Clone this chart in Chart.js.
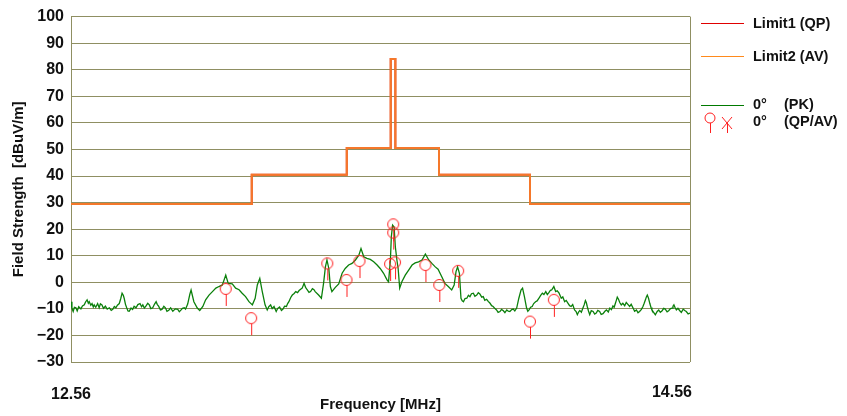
<!DOCTYPE html>
<html>
<head>
<meta charset="utf-8">
<script src="https://cdn.jsdelivr.net/npm/chart.js@4"></script>
<style>
    html, body { margin: 0; padding: 0; background: #fff; }
    #wrap { position: relative; width: 847px; height: 416px; }
</style>
</head>
<body>
<div id="wrap"><canvas id="chart-emi" width="847" height="416"></canvas></div>
<script>
const xMin = 12.56;
const xMax = 14.56;
const yMin = -30;
const yMax = 100;
const xTickLabels = ['12.56', '14.56'];

// limit lines (step breakpoints, MHz)
const limitFreqs = [12.56, 13.144, 13.451, 13.593, 13.608, 13.749, 14.043, 14.56];
const limit1Levels = [29.5, 40.5, 50.5, 84, 50.5, 40.5, 29.5, 29.5];
const limit2Levels = [29.5, 40.5, 50.5, 84, 50.5, 40.5, 29.5, 29.5];

// peak scan 0 deg, read in pieces from left to right
const pkFreqsA = [
    12.560, 12.563, 12.567, 12.571, 12.576, 12.580, 12.585, 12.592, 12.597, 12.603,
    12.607, 12.612, 12.616, 12.619, 12.624, 12.628, 12.632, 12.635, 12.640, 12.646,
    12.651, 12.655, 12.660, 12.665, 12.671, 12.677, 12.684, 12.690, 12.695, 12.700,
    12.705, 12.710, 12.716, 12.721, 12.725, 12.729, 12.732, 12.736, 12.740, 12.744,
    12.748, 12.754, 12.759, 12.764, 12.770, 12.776, 12.783, 12.788, 12.792, 12.797,
    12.802, 12.808, 12.813, 12.818, 12.824, 12.830, 12.835, 12.839, 12.843, 12.849,
    12.854, 12.860, 12.865, 12.870, 12.876, 12.882, 12.889, 12.897, 12.905, 12.910,
    12.915, 12.920, 12.926, 12.930, 12.934, 12.937, 12.940, 12.944, 12.948
];
const pkLevelsA = [
    -7.3, -9.8, -11.0, -9.4, -9.6, -10.8, -9.2, -10.0, -8.9, -8.5,
    -7.4, -6.6, -7.9, -7.3, -8.6, -8.0, -9.3, -8.5, -9.4, -8.0,
    -9.6, -8.1, -8.5, -9.8, -9.0, -10.1, -9.6, -10.6, -10.2, -9.1,
    -9.6, -8.6, -8.0, -6.0, -4.1, -4.9, -6.1, -8.3, -9.6, -10.8,
    -10.9, -9.7, -10.2, -9.0, -9.6, -8.4, -8.0, -9.2, -8.5, -9.7,
    -9.0, -7.9, -8.5, -9.9, -9.6, -8.2, -7.3, -8.4, -9.0, -10.4,
    -10.2, -9.0, -9.6, -10.9, -10.5, -9.6, -10.9, -10.0, -10.2, -11.1,
    -10.5, -9.8, -9.6, -10.1, -9.0, -8.2, -6.6, -4.5, -2.9
];

const pkFreqsB = [
    12.957, 12.968, 12.976, 12.986, 12.995, 13.006, 13.017, 13.028, 13.038, 13.049,
    13.060, 13.068, 13.081, 13.092, 13.103, 13.113, 13.124, 13.135, 13.146, 13.155,
    13.162, 13.170, 13.178, 13.187, 13.194, 13.199, 13.205, 13.210, 13.216, 13.223,
    13.228, 13.234, 13.240, 13.245, 13.250, 13.256, 13.260, 13.264, 13.270, 13.275,
    13.281, 13.286, 13.292, 13.297, 13.302, 13.307, 13.313, 13.318, 13.323, 13.329,
    13.334, 13.340, 13.345
];
const pkLevelsB = [
    -7.3, -9.7, -10.6, -9.1, -6.6, -4.8, -3.5, -2.2, -1.6, -1.0,
    2.7, -0.4, -0.6, -2.2, -2.8, -4.1, -5.4, -7.3, -8.5, -6.0,
    -1.0, 1.5, -3.5, -8.5, -10.4, -9.2, -8.5, -9.9, -9.1, -11.0,
    -9.8, -9.3, -10.6, -10.1, -9.0, -9.1, -8.0, -7.3, -5.7, -4.8,
    -4.2, -3.5, -3.9, -3.1, -2.6, -2.2, -0.4, -1.9, -2.8, -3.8,
    -3.5, -2.4, -2.8
];

const pkFreqsC = [
    13.349, 13.360, 13.369, 13.376, 13.382, 13.387, 13.393, 13.398, 13.403, 13.414,
    13.425, 13.436, 13.446, 13.457, 13.468, 13.479, 13.490, 13.497, 13.506, 13.516,
    13.527, 13.538, 13.549, 13.559, 13.570, 13.581, 13.586, 13.592, 13.595, 13.599,
    13.604, 13.608, 13.613, 13.617, 13.622, 13.629, 13.640, 13.651, 13.662, 13.672,
    13.683, 13.694, 13.705, 13.716, 13.726, 13.737, 13.746
];
const pkLevelsC = [
    -3.5, -4.8, -6.0, -0.4, 5.8, 8.4, 5.2, -1.6, -3.5, -1.9,
    -0.6, 3.4, 5.2, 6.5, 7.1, 8.4, 10.2, 12.7, 9.6, 9.0,
    8.6, 7.7, 6.5, 5.2, 3.4, 0.9, 0.2, 8.4, 17.1, 21.5,
    20.8, 13.3, 8.4, 5.2, -2.2, 0.2, 2.7, 4.6, 6.5, 7.3,
    7.7, 8.4, 10.6, 8.4, 7.1, 5.8, 4.9
];

const pkFreqsD = [
    13.758, 13.768, 13.779, 13.790, 13.798, 13.804, 13.809, 13.815, 13.820, 13.824,
    13.828, 13.833, 13.839, 13.844, 13.849, 13.854, 13.860, 13.865, 13.871, 13.876,
    13.881, 13.887, 13.892, 13.897, 13.903, 13.908, 13.914, 13.919, 13.924, 13.930,
    13.935, 13.940, 13.946, 13.951, 13.957, 13.962, 13.968, 13.973, 13.978, 13.984,
    13.989, 13.994, 14.000, 14.007, 14.014, 14.019, 14.025, 14.032, 14.036, 14.040,
    14.045, 14.050, 14.055, 14.061, 14.066, 14.072, 14.077, 14.083, 14.088, 14.094,
    14.099, 14.104, 14.109, 14.113, 14.120, 14.126, 14.131, 14.137
];
const pkLevelsD = [
    2.1, -0.4, -1.6, -2.9, -1.0, 4.0, 5.8, 3.4, -6.0, -7.0,
    -7.3, -6.1, -6.0, -4.9, -5.4, -4.3, -4.1, -5.3, -4.8, -3.9,
    -4.4, -5.6, -5.4, -6.8, -6.4, -7.2, -7.9, -8.8, -9.1, -9.9,
    -10.4, -11.3, -11.0, -10.2, -10.7, -11.4, -10.4, -10.9, -11.0, -10.3,
    -10.1, -10.8, -9.7, -6.0, -2.9, -2.2, -5.4, -9.7, -10.9, -10.4,
    -9.4, -9.1, -8.0, -7.3, -7.0, -6.0, -5.0, -4.1, -4.6, -3.5,
    -4.6, -3.9, -3.0, -2.9, -1.6, -3.5, -3.2, -4.1
];

const pkFreqsE = [
    14.144, 14.149, 14.155, 14.160, 14.166, 14.171, 14.176, 14.181, 14.187, 14.192,
    14.196, 14.200, 14.204, 14.209, 14.214, 14.218, 14.222, 14.225, 14.228, 14.232,
    14.236, 14.241, 14.247, 14.252, 14.257, 14.262, 14.268, 14.273, 14.279, 14.285,
    14.290, 14.296, 14.301, 14.306, 14.311, 14.315, 14.319, 14.322, 14.325, 14.329,
    14.333, 14.338, 14.343, 14.349, 14.354, 14.360, 14.365, 14.370, 14.376, 14.381,
    14.387, 14.392, 14.397, 14.403, 14.408, 14.412, 14.416, 14.419, 14.422, 14.426,
    14.430, 14.434, 14.437, 14.443, 14.448, 14.454, 14.459, 14.464, 14.470, 14.475,
    14.480, 14.486, 14.491, 14.497, 14.502, 14.505, 14.508, 14.512, 14.516, 14.521,
    14.527, 14.532, 14.538, 14.543, 14.548, 14.554, 14.560
];
const pkLevelsE = [
    -6.0, -5.5, -7.3, -6.8, -7.9, -8.8, -9.1, -8.4, -10.4, -11.0,
    -12.2, -11.2, -10.6, -11.3, -9.7, -8.5, -6.9, -7.6, -9.1, -10.8,
    -12.2, -10.7, -11.0, -12.0, -11.6, -10.6, -11.0, -12.1, -11.8, -10.9,
    -10.4, -11.2, -9.7, -10.3, -8.9, -9.4, -7.9, -6.8, -5.6, -6.4,
    -7.6, -8.5, -7.9, -8.8, -7.6, -8.4, -9.1, -8.3, -9.7, -10.9,
    -10.4, -11.5, -11.0, -10.2, -9.1, -7.9, -6.6, -5.5, -4.8, -6.0,
    -7.9, -9.5, -10.4, -11.4, -12.2, -11.0, -10.4, -11.3, -10.7, -9.8,
    -10.1, -11.1, -10.7, -9.9, -9.7, -9.0, -8.5, -9.6, -10.4, -9.8,
    -10.7, -11.3, -10.1, -10.6, -11.0, -11.9, -11.6
];

const pkFreqs = [].concat(pkFreqsA, pkFreqsB, pkFreqsC, pkFreqsD, pkFreqsE);
const pkLevels = [].concat(pkLevelsA, pkLevelsB, pkLevelsC, pkLevelsD, pkLevelsE);

// QP readings 0 deg
const qpFreqs = [13.060, 13.142, 13.388, 13.450, 13.492, 13.591, 13.601, 13.601, 13.607, 13.705, 13.750, 13.811, 14.043, 14.120];
const qpLevels = [-2.5, -13.5, 7.1, 0.9, 8.0, 6.9, 21.8, 18.7, 7.5, 6.5, -1.0, 4.3, -14.8, -6.6];

const gridColor = '#8f8f62';
const fontFamily = '"Liberation Sans", Arial, sans-serif';
const markerColor = '#ff1f1f';

function pairs(xs, ys) {
    return xs.map((x, i) => ({ x: x, y: ys[i] }));
}

function makePinSymbol(color) {
    const c = document.createElement('canvas');
    c.width = 16;
    c.height = 36;
    const ctx = c.getContext('2d');
    ctx.strokeStyle = color;
    ctx.lineWidth = 1;
    ctx.beginPath();
    ctx.arc(8, 18, 5.5, 0, Math.PI * 2);
    ctx.stroke();
    ctx.beginPath();
    ctx.moveTo(8.5, 23.5);
    ctx.lineTo(8.5, 35);
    ctx.stroke();
    return c;
}

// x tick labels, x title and the legend block on the right
const decorPlugin = {
    id: 'decor',
    afterDraw(chart) {
        const ctx = chart.ctx;
        const xs = chart.scales.x;
        ctx.save();
        ctx.fillStyle = '#111';
        ctx.textBaseline = 'middle';
        ctx.font = 'bold 16px ' + fontFamily;
        ctx.textAlign = 'center';
        ctx.fillText(xTickLabels[0], xs.getPixelForValue(xMin), 395);
        ctx.textAlign = 'right';
        ctx.fillText(xTickLabels[1], xs.getPixelForValue(xMax) + 2, 393);
        ctx.textAlign = 'center';
        ctx.font = 'bold 15px ' + fontFamily;
        ctx.fillText('Frequency [MHz]', (chart.chartArea.left + chart.chartArea.right) / 2, 405);

        // legend
        ctx.lineWidth = 1;
        ctx.textAlign = 'left';
        ctx.font = 'bold 14.5px ' + fontFamily;
        const rows = [
            { y: 23.5, color: '#e00000', label: 'Limit1 (QP)' },
            { y: 56.5, color: '#ff8a1c', label: 'Limit2 (AV)' }
        ];
        rows.forEach(r => {
            ctx.strokeStyle = r.color;
            ctx.beginPath();
            ctx.moveTo(701, r.y);
            ctx.lineTo(744, r.y);
            ctx.stroke();
            ctx.fillText(r.label, 753, r.y + 0.5);
        });
        ctx.strokeStyle = '#007a00';
        ctx.beginPath();
        ctx.moveTo(701, 105.5);
        ctx.lineTo(744, 105.5);
        ctx.stroke();
        ctx.fillText('0°', 753, 105);
        ctx.fillText('(PK)', 784, 105);
        ctx.fillText('0°', 753, 122);
        ctx.fillText('(QP/AV)', 784, 122);
        ctx.strokeStyle = markerColor;
        ctx.beginPath();
        ctx.arc(710, 118, 5, 0, Math.PI * 2);
        ctx.moveTo(710.5, 123);
        ctx.lineTo(710.5, 133);
        ctx.moveTo(722, 117);
        ctx.lineTo(732, 129);
        ctx.moveTo(732, 117);
        ctx.lineTo(722, 129);
        ctx.moveTo(727.5, 123);
        ctx.lineTo(727.5, 133);
        ctx.stroke();
        ctx.restore();
    }
};

function loadChart() {
    new Chart(document.getElementById('chart-emi'), {
        type: 'line',
        data: {
            datasets: [
                {
                    label: '0° (QP/AV)',
                    data: pairs(qpFreqs, qpLevels),
                    showLine: false,
                    pointStyle: makePinSymbol(markerColor),
                    pointRadius: 6
                },
                {
                    label: '0° (PK)',
                    data: pairs(pkFreqs, pkLevels),
                    borderColor: '#0b800b',
                    borderWidth: 1.3,
                    pointRadius: 0,
                    tension: 0
                },
                {
                    label: 'Limit2 (AV)',
                    data: pairs(limitFreqs, limit2Levels),
                    borderColor: '#f5782a',
                    borderWidth: 2,
                    stepped: true,
                    pointRadius: 0
                },
                {
                    label: 'Limit1 (QP)',
                    data: pairs(limitFreqs, limit1Levels),
                    borderColor: '#e03020',
                    borderWidth: 2,
                    stepped: true,
                    pointRadius: 0
                }
            ]
        },
        options: {
            responsive: false,
            animation: false,
            layout: { padding: { left: 0, top: 15, right: 157, bottom: 0 } },
            plugins: {
                legend: { display: false },
                tooltip: { enabled: false }
            },
            scales: {
                x: {
                    type: 'linear',
                    min: xMin,
                    max: xMax,
                    afterBuildTicks: scale => {
                        scale.ticks = [{ value: xMin }, { value: xMax }];
                    },
                    afterFit: scale => { scale.height = 54; },
                    ticks: { display: false },
                    grid: { color: gridColor, lineWidth: 1, drawTicks: false },
                    border: { display: false }
                },
                y: {
                    min: yMin,
                    max: yMax,
                    afterFit: scale => { scale.width = 71; },
                    ticks: {
                        stepSize: 10,
                        color: '#111',
                        font: { family: fontFamily, size: 16, weight: 'bold' },
                        padding: 7,
                        callback: v => (v < 0 ? '\u2212' + Math.abs(v) : v)
                    },
                    grid: { color: gridColor, lineWidth: 1, drawTicks: false },
                    border: { color: gridColor },
                    title: {
                        display: true,
                        text: 'Field Strength  [dBuV/m]',
                        color: '#111',
                        font: { family: fontFamily, size: 15, weight: 'bold' },
                        padding: { top: 10, bottom: 0 }
                    }
                }
            }
        },
        plugins: [decorPlugin]
    });
}

document.addEventListener('DOMContentLoaded', function() {
    loadChart();
});
</script>
</body>
</html>
